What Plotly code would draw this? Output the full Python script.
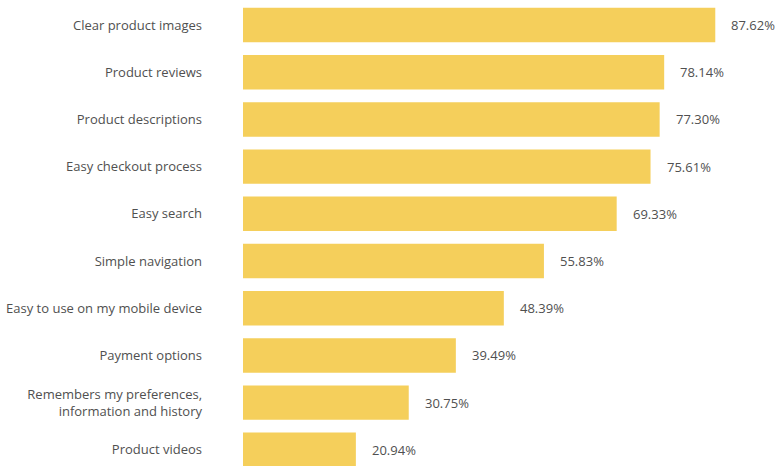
import plotly.graph_objects as go

features = [
    "Clear product images",
    "Product reviews",
    "Product descriptions",
    "Easy checkout process",
    "Easy search",
    "Simple navigation",
    "Easy to use on my mobile device",
    "Payment options",
    "Remembers my preferences,<br>information and history",
    "Product videos",
]
shares = [87.62, 78.14, 77.30, 75.61, 69.33, 55.83, 48.39, 39.49, 30.75, 20.94]
share_labels = [f"{v:.2f}%" for v in shares]

BAR_COLOR = "#F5CF5B"
TEXT_COLOR = "#505050"
FONT = "Open Sans"

fig = go.Figure(
    go.Bar(
        x=shares,
        y=features,
        orientation="h",
        marker=dict(color=BAR_COLOR, line=dict(width=0)),
        hoverinfo="skip",
    )
)

for feat, val, lab in zip(features, shares, share_labels):
    fig.add_annotation(
        x=val, y=feat, text=lab, showarrow=False,
        xanchor="left", xshift=14,
        font=dict(family=FONT, size=13, color=TEXT_COLOR),
    )

fig.update_layout(
    width=775, height=466,
    margin=dict(l=243, r=0, t=0, b=0),
    paper_bgcolor="white", plot_bgcolor="white",
    bargap=0.27,
    showlegend=False,
    font=dict(family=FONT, size=13, color=TEXT_COLOR),
    xaxis=dict(range=[0, 98.7], visible=False, fixedrange=True),
    yaxis=dict(
        range=[9.343, -0.53],
        showgrid=False, zeroline=False, showline=False,
        ticks="", ticklabelstandoff=40,
        tickfont=dict(family=FONT, size=13, color=TEXT_COLOR),
        fixedrange=True,
    ),
)

fig.write_html("out.html")
